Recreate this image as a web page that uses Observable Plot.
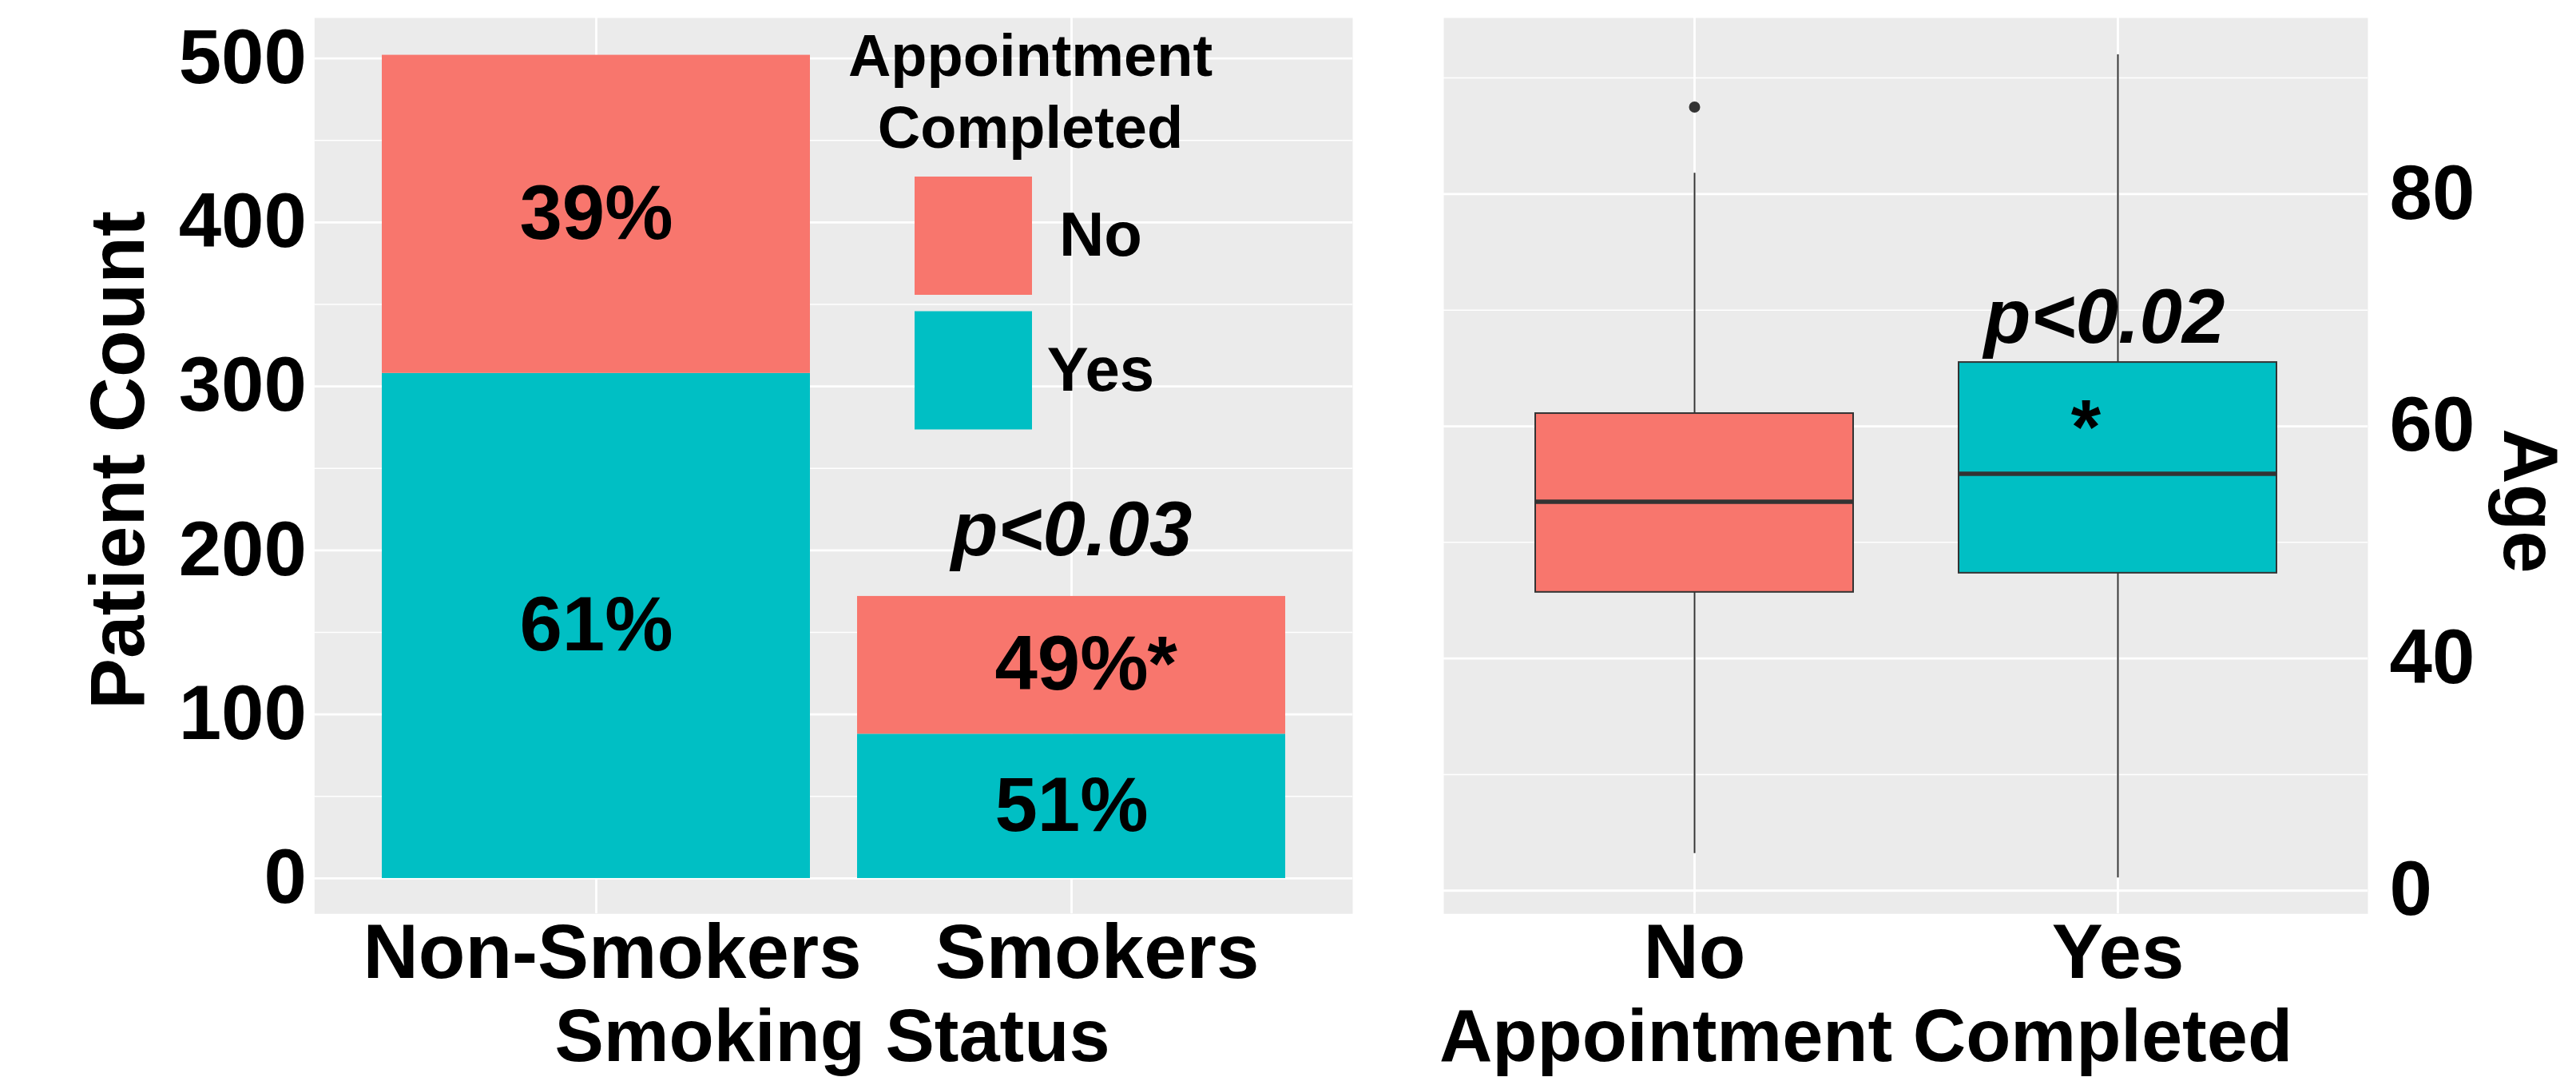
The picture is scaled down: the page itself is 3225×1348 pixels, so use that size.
<!DOCTYPE html>
<html>
<head>
<meta charset="utf-8">
<script src="https://cdn.jsdelivr.net/npm/d3@7"></script>
<script src="https://cdn.jsdelivr.net/npm/@observablehq/plot@0.6"></script>
<style>
  html, body { margin: 0; padding: 0; background: #fff; }
  #figure { position: relative; width: 3225px; height: 1348px; overflow: hidden; background: #fff; }
  #figure svg { position: absolute; top: 0; max-width: none; }
  #figure text { font-family: "Liberation Sans", Arial, Helvetica, sans-serif; font-weight: bold; fill: #000; }
</style>
</head>
<body>
<div id="figure"></div>
<script>
// ---- Left panel: patient counts by smoking status, stacked by appointment completion
const statusOrder = ["Non-Smokers", "Smokers"];
const completionOrder = ["No", "Yes"];
const segmentStatus = ["Non-Smokers", "Non-Smokers", "Smokers", "Smokers"];
const segmentCompleted = ["Yes", "No", "Yes", "No"];
const segmentCount = [308, 194, 88, 84];
const countTicks = [0, 100, 200, 300, 400, 500];
const countMinorTicks = [50, 150, 250, 350, 450];
const smokingPValue = "p<0.03";
const smokingStar = "*";

// ---- Right panel: age distribution by appointment completion (box summaries)
const ageGroup = ["No", "Yes"];
const ageQ1 = [45.7, 47.35];
const ageMedian = [53.5, 55.9];
const ageQ3 = [61.1, 65.5];
const ageWhiskerLow = [23.2, 21.1];
const ageWhiskerHigh = [81.8, 92.0];
const ageOutlierGroup = ["No"];
const ageOutlierValue = [87.5];
const ageTicks = [20, 40, 60, 80];
const ageTickLabels = ["0", "40", "60", "80"];
const ageMinorTicks = [30, 50, 70, 90];
const agePValue = "p<0.02";
const ageStar = "*";

const fillColors = ["#F8766D", "#00BFC4"];
const FS = 96;            // text size used across both panels
const TITLE_FS = 92;      // x axis titles
const GRID = "#FFFFFF";
const PANEL = "#EBEBEB";

// Tables built from the arrays above
const segments = segmentStatus.map((s, i) => ({status: s, completed: segmentCompleted[i], count: segmentCount[i]}));
const totals = d3.rollup(segments, v => d3.sum(v, d => d.count), d => d.status);
const statusTotals = statusOrder.map(s => ({status: s, total: totals.get(s)}));
const pct = d => `${Math.round(100 * d.count / totals.get(d.status))}%`;

const boxes = ageGroup.map((g, i) => ({
  group: g, q1: ageQ1[i], median: ageMedian[i], q3: ageQ3[i], lo: ageWhiskerLow[i], hi: ageWhiskerHigh[i]
}));
const outliers = ageOutlierGroup.map((g, i) => ({group: g, age: ageOutlierValue[i]}));

const fig = document.getElementById("figure");

// ---------------- Left chart ----------------
const left = Plot.plot({
  width: 1750,
  height: 1348,
  marginLeft: 393.3,
  marginRight: 57,
  marginTop: 22,
  marginBottom: 204.7,
  x: {type: "band", domain: statusOrder, paddingInner: 0.1, paddingOuter: 0.1415, axis: null},
  y: {domain: [-21.6, 524.7], axis: null},
  color: {domain: completionOrder, range: fillColors},
  marks: [
    Plot.frame({fill: PANEL, stroke: "none"}),
    Plot.gridY(countMinorTicks, {stroke: GRID, strokeOpacity: 1, strokeWidth: 1.5}),
    Plot.gridY(countTicks, {stroke: GRID, strokeOpacity: 1, strokeWidth: 2.8}),
    Plot.gridX(statusOrder, {stroke: GRID, strokeOpacity: 1, strokeWidth: 2.8}),
    Plot.barY(segments, {x: "status", y: "count", fill: "completed"}),
    Plot.text(segments, Plot.stackY({
      x: "status", y: "count", z: "completed", text: pct,
      fontSize: FS, lineAnchor: "middle"
    })),
    Plot.text(segments, Plot.stackY({
      x: "status", y: "count", z: "completed",
      text: d => (d.status === "Smokers" && d.completed === "No") ? smokingStar : null,
      fontSize: FS, lineAnchor: "middle", textAnchor: "start", dx: 95
    })),
    Plot.text(statusTotals.filter(d => d.status === "Smokers"), {
      x: "status", y: "total", text: () => smokingPValue,
      fontSize: FS, fontStyle: "italic", lineAnchor: "bottom", dy: -51
    }),
    Plot.axisY(countTicks, {anchor: "left", tickSize: 0, tickPadding: 10, fontSize: FS, label: null}),
    Plot.axisX([statusOrder[0]], {anchor: "bottom", tickSize: 0, tickPadding: 12, fontSize: FS, dx: 20, label: null}),
    Plot.axisX([statusOrder[1]], {anchor: "bottom", tickSize: 0, tickPadding: 12, fontSize: FS, dx: 32, label: null})
  ]
});
left.style.left = "0px";
fig.appendChild(left);

// Axis titles and legend for the left chart
const ls = d3.select(left);
ls.append("text")
  .attr("transform", "translate(180,576) rotate(-90)")
  .attr("text-anchor", "middle")
  .attr("font-size", FS)
  .text("Patient Count");
ls.append("text")
  .attr("x", 1042).attr("y", 1328)
  .attr("text-anchor", "middle")
  .attr("font-size", TITLE_FS)
  .text("Smoking Status");

const colorScale = left.scale("color");
const legend = ls.append("g").attr("class", "legend");
legend.selectAll("text.title")
  .data(["Appointment", "Completed"])
  .join("text")
  .attr("class", "title")
  .attr("x", 1290)
  .attr("y", (d, i) => 95 + i * 90.3)
  .attr("text-anchor", "middle")
  .attr("font-size", 74)
  .text(d => d);
const keyItems = colorScale.domain.map((d, i) => ({label: d, color: colorScale.range[i]}));
legend.selectAll("rect.key")
  .data(keyItems)
  .join("rect")
  .attr("class", "key")
  .attr("x", 1145)
  .attr("y", (d, i) => 221 + i * 168.5)
  .attr("width", 147)
  .attr("height", 148)
  .attr("fill", d => d.color);
legend.selectAll("text.lab")
  .data(keyItems)
  .join("text")
  .attr("class", "lab")
  .attr("x", 1378)
  .attr("y", (d, i) => 320 + i * 168.6)
  .attr("text-anchor", "middle")
  .attr("font-size", 78)
  .text(d => d.label);

// ---------------- Right chart ----------------
const right = Plot.plot({
  width: 1475,
  height: 1348,
  marginLeft: 57,
  marginRight: 261,
  marginTop: 22,
  marginBottom: 204.7,
  x: {type: "band", domain: ageGroup, paddingInner: 0.25, paddingOuter: 0.2147, axis: null},
  y: {domain: [18.0, 95.17], axis: null},
  color: {domain: completionOrder, range: fillColors},
  marks: [
    Plot.frame({fill: PANEL, stroke: "none"}),
    Plot.gridY(ageMinorTicks, {stroke: GRID, strokeOpacity: 1, strokeWidth: 1.5}),
    Plot.gridY(ageTicks, {stroke: GRID, strokeOpacity: 1, strokeWidth: 2.8}),
    Plot.gridX(ageGroup, {stroke: GRID, strokeOpacity: 1, strokeWidth: 2.8}),
    Plot.ruleX(boxes, {x: "group", y1: "q3", y2: "hi", stroke: "#333333", strokeWidth: 2}),
    Plot.ruleX(boxes, {x: "group", y1: "lo", y2: "q1", stroke: "#333333", strokeWidth: 2}),
    Plot.barY(boxes, {x: "group", y1: "q1", y2: "q3", fill: "group", stroke: "#333333", strokeWidth: 2}),
    Plot.tickY(boxes, {x: "group", y: "median", stroke: "#333333", strokeWidth: 5.5}),
    Plot.dot(outliers, {x: "group", y: "age", r: 7, fill: "#333333", stroke: "none"}),
    Plot.text(boxes.filter(d => d.group === "Yes"), {
      x: "group", y: "q3", text: () => agePValue,
      fontSize: FS, fontStyle: "italic", lineAnchor: "bottom", dy: -25, dx: -17
    }),
    Plot.text(boxes.filter(d => d.group === "Yes"), {
      x: "group", y: "median", text: () => ageStar,
      fontSize: FS, lineAnchor: "bottom", dy: -26, dx: -40
    }),
    Plot.axisY(ageTicks, {
      anchor: "right", tickSize: 0, tickPadding: 27, fontSize: FS, label: null,
      tickFormat: d => ageTickLabels[ageTicks.indexOf(d)]
    }),
    Plot.axisX(ageGroup, {anchor: "bottom", tickSize: 0, tickPadding: 12, fontSize: FS, label: null})
  ]
});
right.style.left = "1750px";
fig.appendChild(right);

const rs = d3.select(right);
rs.append("text")
  .attr("x", 586).attr("y", 1328)
  .attr("text-anchor", "middle")
  .attr("font-size", TITLE_FS)
  .text("Appointment Completed");
rs.append("text")
  .attr("transform", "translate(1385,627) rotate(90)")
  .attr("text-anchor", "middle")
  .attr("font-size", FS)
  .text("Age");
</script>
</body>
</html>
